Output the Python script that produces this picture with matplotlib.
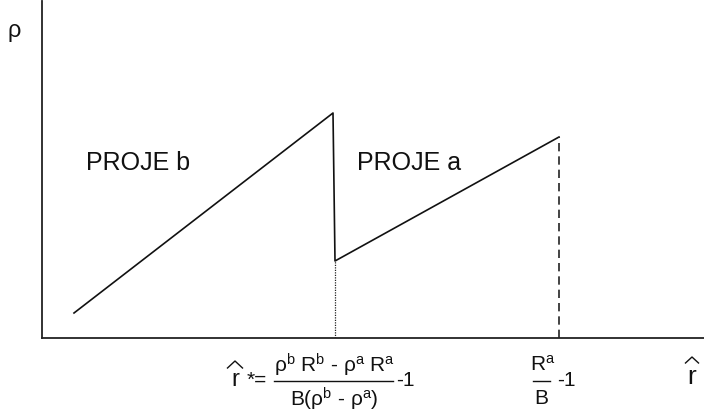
import numpy as np
import matplotlib
matplotlib.use('Agg')
from matplotlib import pyplot as plt
from matplotlib.lines import Line2D

plt.rcParams['font.family'] = ['Liberation Sans', 'DejaVu Sans']
plt.rcParams['mathtext.fontset'] = 'custom'
plt.rcParams['mathtext.rm'] = 'Liberation Sans'
plt.rcParams['mathtext.it'] = 'Liberation Sans'
plt.rcParams['mathtext.bf'] = 'Liberation Sans:bold'
plt.rcParams['mathtext.default'] = 'regular'

# data (arbitrary units: r-hat along x, rho along y)
proj_b_r = [32, 291]
proj_b_rho = [25, 225]
proj_a_r = [293, 517]
proj_a_rho = [77, 201]
r_star = proj_a_r[0]
r_max = proj_a_r[1]
label_b = 'PROJE b'
label_a = 'PROJE a'

W, H = 704, 414
fig = plt.figure(figsize=(W/100, H/100), dpi=100)
ax = fig.add_axes([42/W, 75/H, 662/W, 337/H])
ax.set_xlim(0, 662)
ax.set_ylim(0, 337)

# the sawtooth: project b rising, drop, project a rising
ax.plot(proj_b_r + proj_a_r, proj_b_rho + proj_a_rho, color='#111111', lw=1.2)
ax.plot([r_star, r_star], [0, proj_a_rho[0]], color='#222222', lw=0.9, ls=(0, (1, 1)))
ax.plot([r_max, r_max], [0, proj_a_rho[1]], color='#222222', lw=1.2, ls=(0, (5, 3)))

ax.text(96, 176, label_b, fontsize=18, ha='center', va='center', color='#111111')
ax.text(367, 176, label_a, fontsize=18, ha='center', va='center', color='#111111')

for s in ['top', 'right']:
    ax.spines[s].set_visible(False)
for s in ['left', 'bottom']:
    ax.spines[s].set_linewidth(1.3)
    ax.spines[s].set_color('#222222')
ax.set_xticks([])
ax.set_yticks([])


def ptext(x, y, s, size, **kw):
    # place text by pixel position (top-left origin)
    fig.text(x/W, 1 - y/H, s, fontsize=size, ha=kw.pop('ha', 'center'),
             va=kw.pop('va', 'center'), color='#111111', **kw)


def pline(xs, ys, lw=1.0):
    fig.add_artist(Line2D([x/W for x in xs], [1 - y/H for y in ys],
                          color='#111111', lw=lw))


def hat(xc, ytop, w=14, h=7):
    pline([xc - w/2, xc, xc + w/2], [ytop + h, ytop, ytop + h], lw=1.0)


# axis names
ptext(14, 33, r'$\rho$', 17)
ptext(692, 377, 'r', 19)
hat(692, 358, 13, 6)

# r-hat* formula
ptext(235, 380, 'r', 17)
hat(235, 362, 15, 7)
ptext(257, 380, '*=', 15)
ptext(334, 365, r'$\rho^b\ R^b$ - $\rho^a\ R^a$', 15)
pline([274, 393], [382, 382], lw=1.0)
ptext(334, 399, r'B($\rho^b$ - $\rho^a$)', 15)
ptext(405, 381, '-1', 15)

# R^a / B - 1
ptext(543, 365, r'$R^a$', 15)
pline([533, 550], [382, 382], lw=1.0)
ptext(541, 399, 'B', 15)
ptext(566, 381, '-1', 15)

fig.savefig('out.png', dpi=100)
